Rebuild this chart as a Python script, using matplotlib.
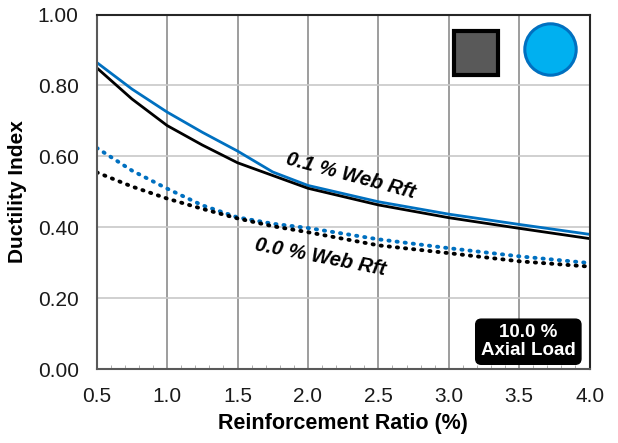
import numpy as np
from matplotlib import pyplot as plt
from matplotlib.ticker import MultipleLocator

plt.rcParams['font.family'] = ['Liberation Sans', 'DejaVu Sans']

# reinforcement ratio (%)
rho = [0.5, 0.75, 1.0, 1.25, 1.5, 1.75, 2.0, 2.5, 3.0, 3.5, 4.0]

# ductility index, 0.1 % web reinforcement
web01_blue = [0.865, 0.79, 0.725, 0.668, 0.615, 0.556, 0.518, 0.472, 0.437, 0.408, 0.38]
web01_black = [0.85, 0.762, 0.687, 0.632, 0.582, 0.546, 0.51, 0.463, 0.427, 0.397, 0.368]

# ductility index, 0.0 % web reinforcement
web00_blue = [0.624, 0.56, 0.509, 0.462, 0.428, 0.41, 0.398, 0.366, 0.341, 0.318, 0.299]
web00_black = [0.555, 0.515, 0.481, 0.452, 0.425, 0.403, 0.386, 0.349, 0.327, 0.304, 0.289]

blue = '#0070C0'
black = '#000000'

fig = plt.figure(figsize=(6.18, 4.43), dpi=100)
ax = fig.add_axes([0.1565, 0.167, 0.7975, 0.8])

ax.plot(rho, web01_blue, color=blue, linewidth=2.0)
ax.plot(rho, web01_black, color=black, linewidth=2.0)
ax.plot(rho, web00_blue, color=blue, linewidth=2.8, linestyle=(0, (0.3, 1.8)), dash_capstyle='round')
ax.plot(rho, web00_black, color=black, linewidth=2.8, linestyle=(0, (0.3, 1.8)), dash_capstyle='round')

ax.set_xlim(0.5, 4.0)
ax.set_ylim(0.0, 1.0)
ax.xaxis.set_major_locator(MultipleLocator(0.5))
ax.xaxis.set_minor_locator(MultipleLocator(0.1))
ax.yaxis.set_major_locator(MultipleLocator(0.2))
ax.xaxis.set_major_formatter(plt.FormatStrFormatter('%.1f'))
ax.yaxis.set_major_formatter(plt.FormatStrFormatter('%.2f'))

ax.grid(axis='x', color='#8c8c8c', linewidth=1.2)
ax.grid(axis='y', color='#c8c8c8', linewidth=1.2)
ax.set_axisbelow(True)

ax.tick_params(axis='both', which='major', length=0, labelsize=15, pad=13, labelcolor='#1a1a1a')
ax.tick_params(axis='x', which='minor', direction='in', length=3, color='#a0a0a0', bottom=True)
ax.tick_params(axis='y', which='minor', left=False)

for side in ['left', 'bottom']:
    ax.spines[side].set_color('#595959')
    ax.spines[side].set_linewidth(1.5)
for side in ['top', 'right']:
    ax.spines[side].set_color('#262626')
    ax.spines[side].set_linewidth(1.5)

ax.set_xlabel('Reinforcement Ratio (%)', fontsize=15.5, fontweight='bold', labelpad=5)
ax.set_ylabel('Ductility Index', fontsize=15, fontweight='bold', labelpad=8)

ax.text(2.30, 0.545, '0.1 % Web Rft', fontsize=14.5, fontweight='bold', fontstyle='italic',
        rotation=-15, ha='center', va='center')
ax.text(2.09, 0.316, '0.0 % Web Rft', fontsize=14.5, fontweight='bold', fontstyle='italic',
        rotation=-11, ha='center', va='center')

ax.text(3.565, 0.077, '10.0 %\nAxial Load', fontsize=13.5, fontweight='bold', color='white',
        ha='center', va='center', linespacing=1.05,
        bbox=dict(boxstyle='round,pad=0.28,rounding_size=0.3', facecolor='black', edgecolor='black'))

# legend symbols
ax.plot([3.19], [0.891], marker='s', markersize=31, markerfacecolor='#595959',
        markeredgecolor='black', markeredgewidth=3, linestyle='none', clip_on=False)
ax.plot([3.72], [0.904], marker='o', markersize=37, markerfacecolor='#00B0F0',
        markeredgecolor=blue, markeredgewidth=2.2, linestyle='none', clip_on=False)

fig.savefig('out.png', dpi=100)
